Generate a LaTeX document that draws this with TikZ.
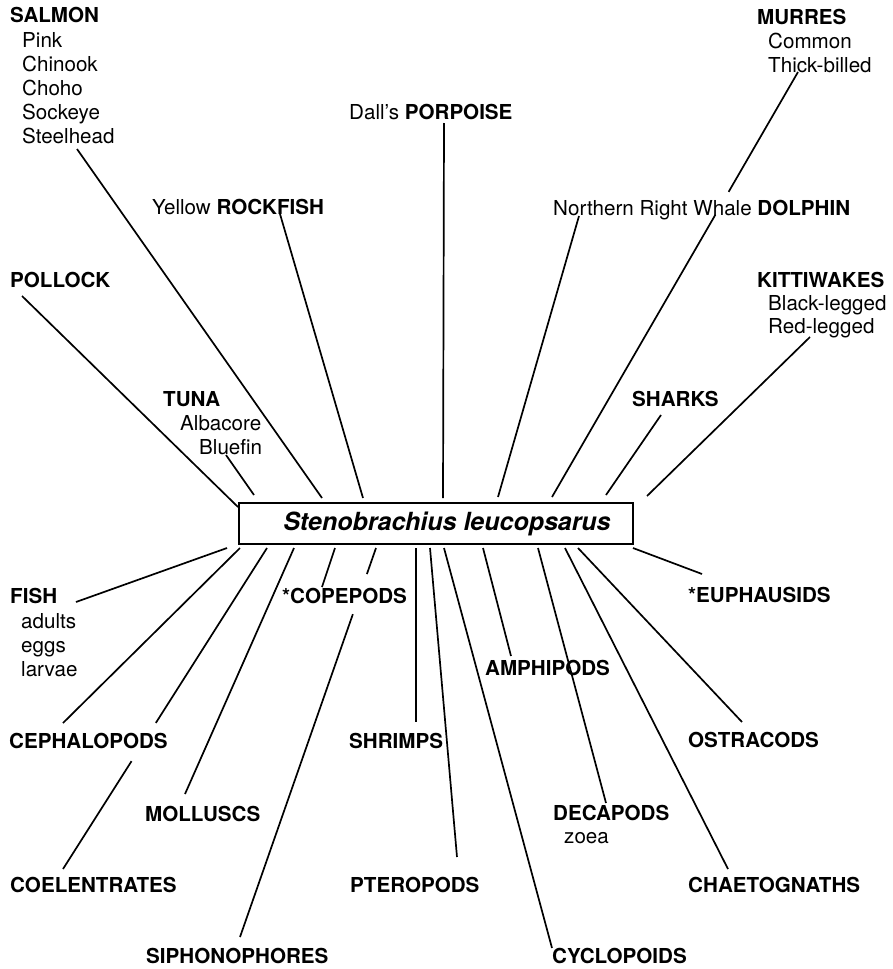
\documentclass[tikz,border=0pt]{standalone}
\usepackage{fontspec}
\setmainfont{TeX Gyre Heros}
\usetikzlibrary{calc}
\begin{document}
\begin{tikzpicture}[x=1pt,y=-1pt,
  lbl/.style={anchor=base west, inner sep=0pt, font=\fontsize{20.6}{24}\selectfont},
  head/.style={lbl, font=\fontsize{20.6}{24}\selectfont\bfseries},
  link/.style={line width=1.7pt, line cap=butt},
  centrebox/.style={draw, line width=1.4pt, minimum width=394pt, minimum height=41pt, inner sep=0pt,
    font=\fontsize{25}{30}\selectfont\bfseries\itshape}]
\useasboundingbox (0,0) rectangle (892,969);

% central box
\node[centrebox] (box) at (436,523.5) {\hspace*{22pt}Stenobrachius leucopsarus};

% ---- labels, top half
\node[head] (salmon) at (10,23) {SALMON};
\node[lbl] (salmon1) at (22,47) {Pink};
\node[lbl] (salmon2) at (22,71) {Chinook};
\node[lbl] (salmon3) at (22,95) {Choho};
\node[lbl] (salmon4) at (22,119) {Sockeye};
\node[lbl] (salmon5) at (22,143) {Steelhead};
\node[lbl] (rockfish) at (152,214) {Yellow \textbf{ROCKFISH}};
\node[lbl] (porpoise) at (349,119) {Dall’s \textbf{PORPOISE}};
\node[lbl] (dolphin) at (553,215) {Northern Right Whale \textbf{DOLPHIN}};
\node[head] (murres) at (757,24) {MURRES};
\node[lbl] (murres1) at (768,48) {Common};
\node[lbl] (murres2) at (768,72) {Thick-billed};
\node[head] (pollock) at (10,287) {POLLOCK};
\node[head] (kittiwakes) at (757,287) {KITTIWAKES};
\node[lbl] (kittiwakes1) at (768,310) {Black-legged};
\node[lbl] (kittiwakes2) at (768,333) {Red-legged};
\node[head] (tuna) at (163,406) {TUNA};
\node[lbl] (tuna1) at (180,430) {Albacore};
\node[lbl] (tuna2) at (199,454) {Bluefin};
\node[head] (sharks) at (632,406) {SHARKS};

% ---- labels, bottom half
\node[head] (fish) at (10,603) {FISH};
\node[lbl] (fish1) at (21,628) {adults};
\node[lbl] (fish2) at (21,652) {eggs};
\node[lbl] (fish3) at (21,676) {larvae};
\node[head] (copepods) at (282,603) {*COPEPODS};
\node[head] (euphausids) at (688,602) {*EUPHAUSIDS};
\node[head] (amphipods) at (485,675) {AMPHIPODS};
\node[head] (cephalopods) at (9,748) {CEPHALOPODS};
\node[head] (shrimps) at (349,748) {SHRIMPS};
\node[head] (ostracods) at (688,747) {OSTRACODS};
\node[head] (molluscs) at (145,821) {MOLLUSCS};
\node[head] (decapods) at (553,820) {DECAPODS};
\node[lbl] (decapods1) at (564,843) {zoea};
\node[head] (coelentrates) at (10,892) {COELENTRATES};
\node[head] (pteropods) at (350,892) {PTEROPODS};
\node[head] (chaetognaths) at (688,892) {CHAETOGNATHS};
\node[head] (siphonophores) at (146,963) {SIPHONOPHORES};
\node[head] (cyclopoids) at (552,963) {CYCLOPOIDS};

% ---- connector end points
\coordinate (pollock-a) at (22,296);   \coordinate (pollock-b) at (238,507);
\coordinate (tuna-a) at (226,455);     \coordinate (tuna-b) at (254,495);
\coordinate (salmon-a) at (77,149);    \coordinate (salmon-b) at (322,498);
\coordinate (rockfish-a) at (280,214); \coordinate (rockfish-b) at (363,498);
\coordinate (porpoise-a) at (444,123); \coordinate (porpoise-b) at (443,498);
\coordinate (dolphin-a) at (579,216);  \coordinate (dolphin-b) at (498,497);
\coordinate (murres-a) at (798,72);    \coordinate (murres-b) at (552,497);
\coordinate (sharks-a) at (661,415);   \coordinate (sharks-b) at (606,495);
\coordinate (kitti-a) at (810,337);    \coordinate (kitti-b) at (647,496);

\coordinate (fish-b) at (227,548);     \coordinate (fish-a) at (76,602);
\coordinate (ceph-b) at (240,548);     \coordinate (ceph-a) at (63,723);
\coordinate (coel-b) at (267,548);     \coordinate (coel-a) at (63,869);
\coordinate (moll-b) at (294,548);     \coordinate (moll-a) at (185,794);
\coordinate (cope-b) at (335,548);     \coordinate (cope-a) at (322,587);
\coordinate (siph-b) at (376,548);     \coordinate (siph-a) at (240,937);
\coordinate (shri-b) at (416,548);     \coordinate (shri-a) at (416,722);
\coordinate (pter-b) at (430,548);     \coordinate (pter-a) at (457,857);
\coordinate (cycl-b) at (444,548);     \coordinate (cycl-a) at (552,948);
\coordinate (amph-b) at (483,548);     \coordinate (amph-a) at (511,656);
\coordinate (deca-b) at (538,548);     \coordinate (deca-a) at (606,803);
\coordinate (chae-b) at (565,548);     \coordinate (chae-a) at (728,869);
\coordinate (ostr-b) at (578,548);     \coordinate (ostr-a) at (742,722);
\coordinate (euph-b) at (633,548);     \coordinate (euph-a) at (702,574);

% ---- connectors
\draw[link] (pollock-a) -- (pollock-b);
\draw[link] (tuna-a) -- (tuna-b);
\draw[link] (salmon-a) -- (salmon-b);
\draw[link] (rockfish-a) -- (rockfish-b);
\draw[link] (porpoise-a) -- (porpoise-b);
\draw[link] (dolphin-a) -- (dolphin-b);
\draw[link] (murres-b) -- ($(murres-b)!0.664!(murres-a)$) ($(murres-b)!0.718!(murres-a)$) -- (murres-a);
\draw[link] (sharks-a) -- (sharks-b);
\draw[link] (kitti-a) -- (kitti-b);

\draw[link] (fish-b) -- (fish-a);
\draw[link] (ceph-b) -- (ceph-a);
\draw[link] (coel-b) -- ($(coel-b)!0.545!(coel-a)$) ($(coel-b)!0.664!(coel-a)$) -- (coel-a);
\draw[link] (moll-b) -- (moll-a);
\draw[link] (cope-b) -- (cope-a);
\draw[link] (siph-b) -- ($(siph-b)!0.067!(siph-a)$) ($(siph-b)!0.17!(siph-a)$) -- (siph-a);
\draw[link] (shri-b) -- (shri-a);
\draw[link] (pter-b) -- (pter-a);
\draw[link] (cycl-b) -- (cycl-a);
\draw[link] (amph-b) -- (amph-a);
\draw[link] (deca-b) -- (deca-a);
\draw[link] (chae-b) -- (chae-a);
\draw[link] (ostr-b) -- (ostr-a);
\draw[link] (euph-b) -- (euph-a);
\end{tikzpicture}
\end{document}
